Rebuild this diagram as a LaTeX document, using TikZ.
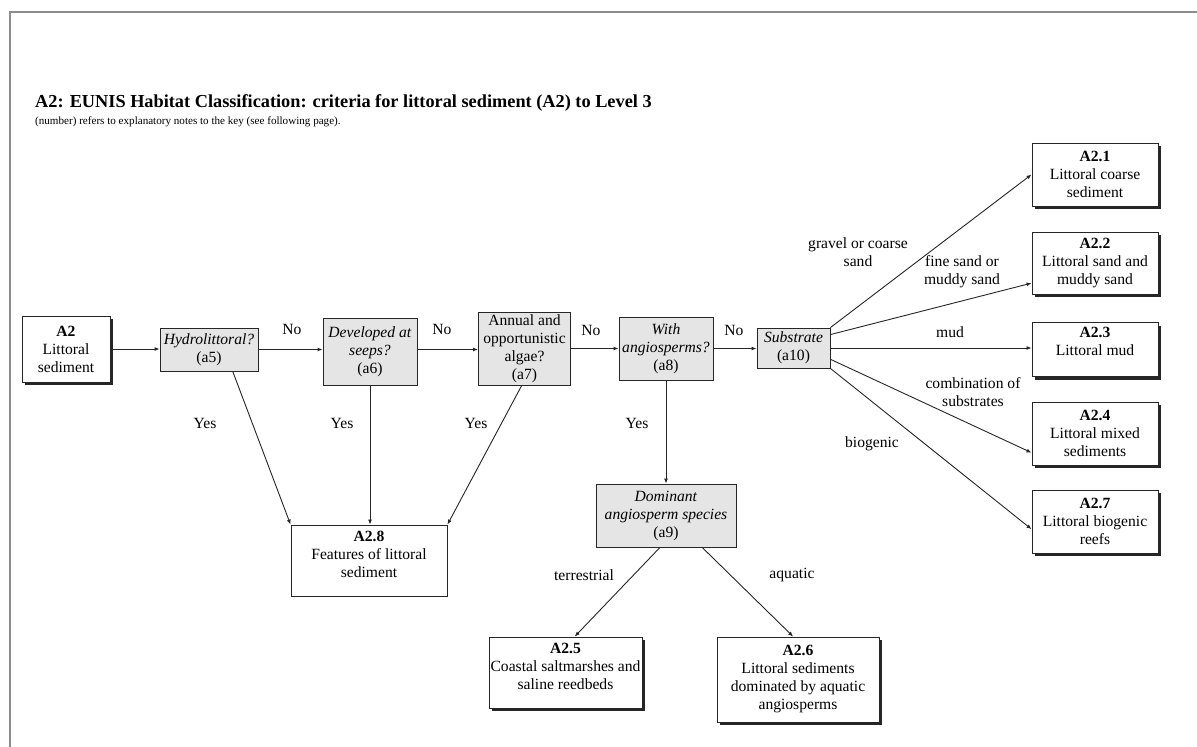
\documentclass[tikz,border=0pt]{standalone}
\usepackage{fontspec}
\setmainfont{Liberation Serif}
\usetikzlibrary{shadows,calc,arrows.meta}
\newcommand{\bxfont}{\fontsize{15.6}{18}\selectfont}
\begin{document}
\begin{tikzpicture}[x=1pt,y=-1pt,
  box/.style={draw=black!85, line width=0.9pt, align=center, inner sep=0pt, font=\bxfont},
  wbox/.style={box, fill=white, drop shadow={shadow xshift=3pt, shadow yshift=-3pt, fill=black, opacity=0.85}},
  qbox/.style={box, fill=black!10},
  pbox/.style={box, fill=white},
  lbl/.style={font=\bxfont, align=center, inner sep=0pt},
  arr/.style={draw=black!85, line width=0.9pt, -{Latex[length=5pt,width=4pt]}},
  frame/.style={draw=black!45, line width=2pt}
]
\useasboundingbox (0,0) rectangle (1197,747);
\fill[white] (0,0) rectangle (1197,747);
\draw[frame] (10,747) -- (10,12) -- (1197,12);

\node[anchor=base west, inner sep=0pt, font=\fontsize{18.3}{21}\selectfont\bfseries] (title) at (35,107)
  {A2: EUNIS Habitat Classification: criteria for littoral sediment (A2) to Level 3};
\node[anchor=base west, inner sep=0pt, font=\fontsize{11.1}{13}\selectfont] (sub) at (35,124)
  {(number) refers to explanatory notes to the key (see following page).};

% boxes
\node[wbox, minimum width=88pt, minimum height=66pt] (a2) at (66,349) {\textbf{A2}\\Littoral\\sediment};
\node[qbox, minimum width=98pt, minimum height=43pt] (hydro) at (209,349.5) {\textit{Hydrolittoral?}\\(a5)};
\node[qbox, minimum width=94pt, minimum height=67pt] (devel) at (370,351.5) {\textit{Developed at}\\\textit{seeps?}\\(a6)};
\node[qbox, minimum width=92pt, minimum height=73pt] (annual) at (524.5,348.5) {Annual and\\opportunistic\\algae?\\(a7)};
\node[qbox, minimum width=94pt, minimum height=63pt] (with) at (666,348.5) {\textit{With}\\\textit{angiosperms?}\\(a8)};
\node[qbox, minimum width=73pt, minimum height=40pt] (subst) at (793.5,348) {\textit{Substrate}\\(a10)};

\node[wbox, minimum width=126pt, minimum height=63pt] (a21) at (1095,174.5) {\textbf{A2.1}\\Littoral coarse\\sediment};
\node[wbox, minimum width=126pt, minimum height=62pt] (a22) at (1095,263) {\textbf{A2.2}\\Littoral sand and\\muddy sand};
\node[wbox, minimum width=126pt, minimum height=54pt] (a23) at (1095,349.5) {\textbf{A2.3}\\Littoral mud\\[-2pt]~};
\node[wbox, minimum width=126pt, minimum height=63pt] (a24) at (1095,433.5) {\textbf{A2.4}\\Littoral mixed\\sediments};
\node[wbox, minimum width=126pt, minimum height=63pt] (a27) at (1095,521.5) {\textbf{A2.7}\\Littoral biogenic\\reefs};

\node[pbox, minimum width=156pt, minimum height=71pt] (a28) at (369,560.5) {\textbf{A2.8}\\Features of littoral\\sediment\\[-6pt]~};
\node[qbox, minimum width=140pt, minimum height=63pt] (dom) at (666,515.5) {\textit{Dominant}\\\textit{angiosperm species}\\(a9)};
\node[wbox, minimum width=153pt, minimum height=71pt] (a25) at (565.5,672.5) {\textbf{A2.5}\\Coastal saltmarshes and\\saline reedbeds\\[-5pt]~};
\node[wbox, minimum width=162pt, minimum height=85pt] (a26) at (798,679.5) {\textbf{A2.6}\\Littoral sediments\\dominated by aquatic\\angiosperms};

% main chain
\draw[arr] (a2.east) -- (a2.east -| hydro.west);
\draw[arr] (hydro.east) -- (hydro.east -| devel.west);
\draw[arr] (devel.east |- hydro.east) -- (hydro.east -| annual.west);
\draw[arr] (annual.east) -- (annual.east -| with.west);
\draw[arr] (with.east) -- (with.east -| subst.west);
\node[lbl] (no1) at (292,329) {No};
\node[lbl] (no2) at (442,329) {No};
\node[lbl] (no3) at (591,330) {No};
\node[lbl] (no4) at (734,330) {No};

% yes branches
\draw[arr] ($(hydro.south west)!0.74!(hydro.south east)$) -- (a28.north west);
\draw[arr] (devel.south) -- (devel.south |- a28.north);
\draw[arr] ($(annual.south west)!0.47!(annual.south east)$) -- (a28.north east);
\draw[arr] (with.south) -- (with.south |- dom.north);
\node[lbl] (y1) at (205,423) {Yes};
\node[lbl] (y2) at (342,423) {Yes};
\node[lbl] (y3) at (476,423) {Yes};
\node[lbl] (y4) at (637,423) {Yes};

% dominant species
\draw[arr] ($(dom.south west)!0.457!(dom.south east)$) -- ($(a25.north west)!0.56!(a25.north east)$);
\draw[arr] ($(dom.south west)!0.757!(dom.south east)$) -- ($(a26.north west)!0.47!(a26.north east)$);
\node[lbl] (ter) at (584,575) {terrestrial};
\node[lbl] (aqu) at (792,575) {aquatic};

% substrate
\draw[arr] (subst.north east) -- (a21.west);
\draw[arr] (subst.20) -- ($(a22.north west)!0.82!(a22.south west)$);
\draw[arr] (subst.east) -- (subst.east -| a23.west);
\draw[arr] (subst.-17) -- ($(a24.north west)!0.8!(a24.south west)$);
\draw[arr] (subst.south east) -- ($(a27.north west)!0.62!(a27.south west)$);
\node[lbl] (l1) at (858,252) {gravel or coarse\\sand};
\node[lbl] (l2) at (962,272) {fine sand or\\muddy sand};
\node[lbl] (l3) at (950,332) {mud};
\node[lbl] (l4) at (973,392) {combination of\\substrates};
\node[lbl] (l5) at (872,444) {biogenic};
\end{tikzpicture}
\end{document}
